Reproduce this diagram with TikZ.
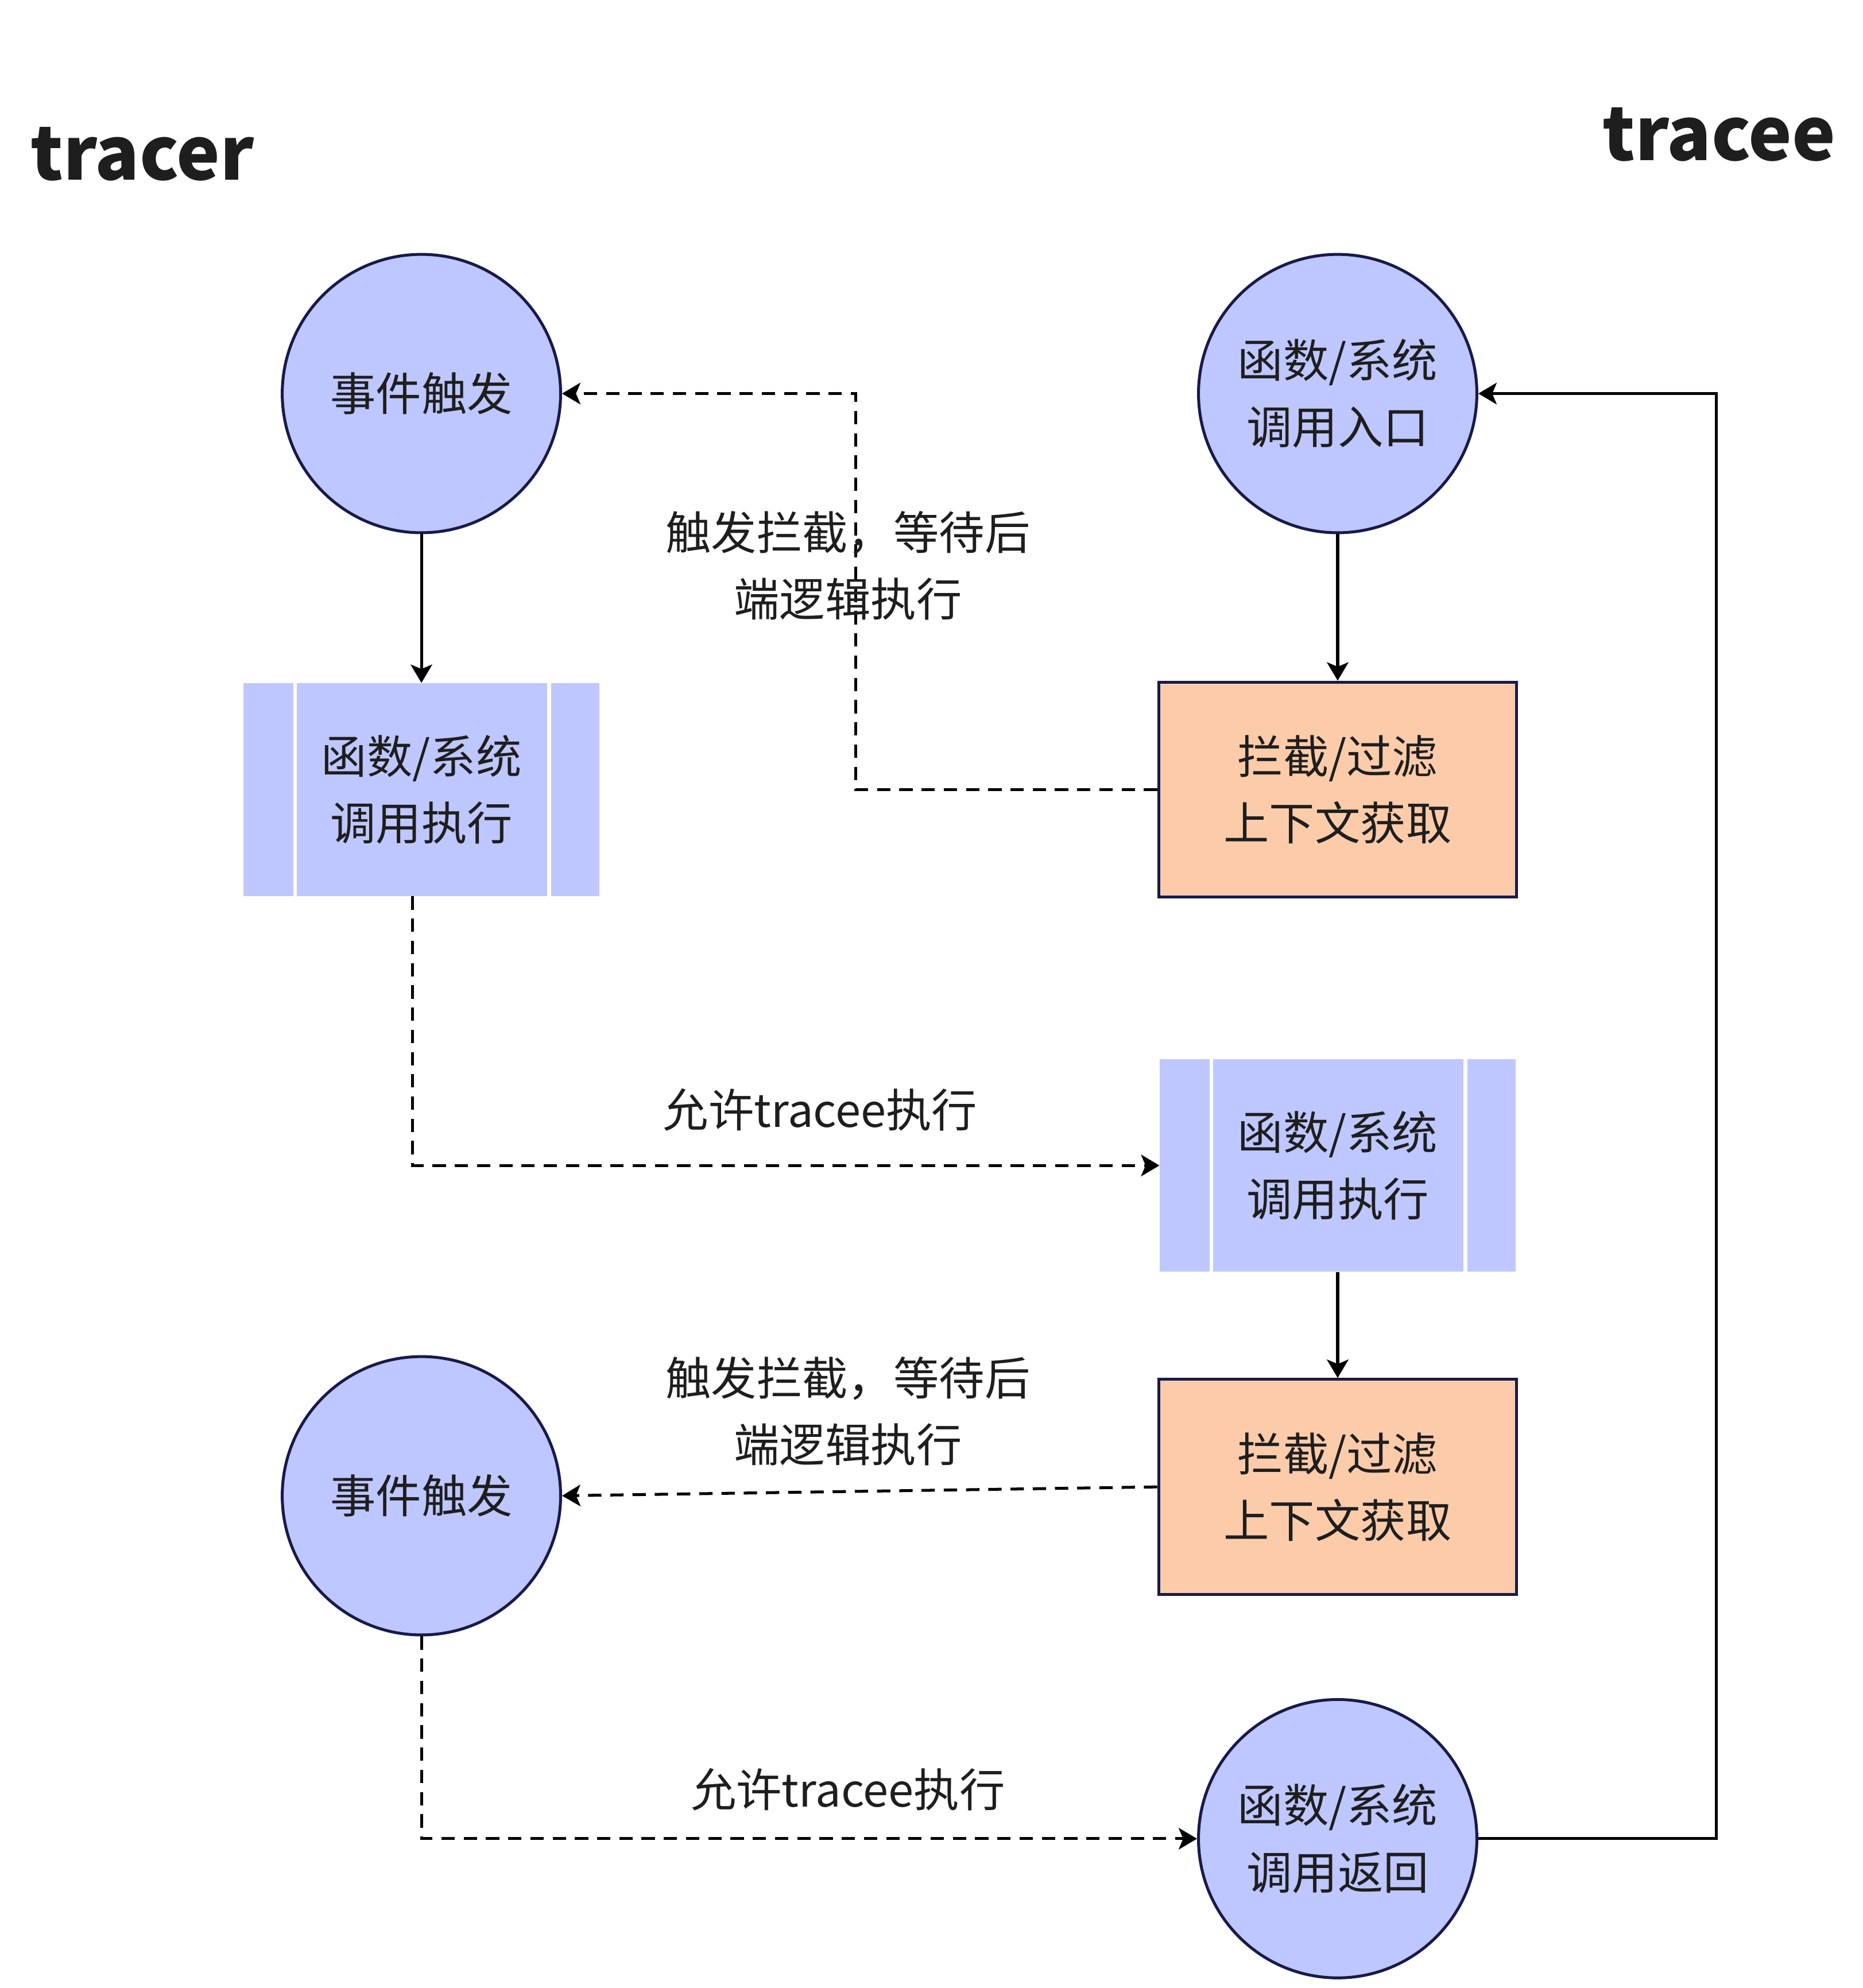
\documentclass[tikz,border=0pt]{standalone}
\usepackage{fontspec}
\setmainfont{Noto Sans CJK SC}
\usetikzlibrary{arrows.meta}

\definecolor{callblue}{RGB}{190,199,255}
\definecolor{hookorange}{RGB}{252,204,170}
\definecolor{edgenavy}{RGB}{24,26,72}
\definecolor{inkgray}{RGB}{30,30,30}

\newcommand{\boxfont}{\fontsize{20.5pt}{30pt}\selectfont}
\newcommand{\sidefont}{\fontsize{33pt}{38pt}\selectfont\bfseries}

\tikzset{
	evtcircle/.style={circle, draw=edgenavy, line width=1.3pt, fill=callblue,
		minimum size=4.4cm, inner sep=0pt, align=center, text=inkgray, font=\boxfont},
	callbox/.style={rectangle, fill=callblue, minimum width=5.62cm,
		minimum height=3.36cm, inner sep=0pt, align=center, text=inkgray, font=\boxfont},
	hookbox/.style={rectangle, draw=edgenavy, line width=1.3pt, fill=hookorange,
		minimum width=5.66cm, minimum height=3.4cm, inner sep=0pt, align=center,
		text=inkgray, font=\boxfont},
	flowlabel/.style={align=center, text=inkgray, font=\boxfont},
	solidflow/.style={line width=1.3pt, -{Stealth[length=0.29cm, width=0.34cm, inset=0.07cm]}},
	dashflow/.style={solidflow, dash pattern=on 6pt off 4pt},
	splitline/.style={white, line width=0.06cm}
}

\begin{document}
\begin{tikzpicture}[x=0.02cm, y=-0.02cm]
	\useasboundingbox (0,0) rectangle (1472,1571);

	%Side titles
	\node[anchor=base west, inner sep=0pt, text=inkgray, font=\sidefont] (tracer) at (24,142) {tracer};
	\node[anchor=base east, inner sep=0pt, text=inkgray, font=\sidefont] (tracee) at (1451,127) {tracee};

	%tracer side
	\node[evtcircle] (trig1) at (333,311) {事件触发};
	\node[callbox] (exec1) at (333,624) {函数/系统\\调用执行};
	\node[evtcircle] (trig2) at (333,1182) {事件触发};

	%tracee side
	\node[evtcircle] (entry) at (1057,311) {函数/系统\\调用入口};
	\node[hookbox] (hook1) at (1057,624) {拦截/过滤\\上下文获取};
	\node[callbox] (exec2) at (1057,921) {函数/系统\\调用执行};
	\node[hookbox] (hook2) at (1057,1175) {拦截/过滤\\上下文获取};
	\node[evtcircle] (ret) at (1057,1453) {函数/系统\\调用返回};

	%white split lines of the call boxes
	\foreach \b in {exec1, exec2} {
		\draw[splitline] ([xshift=0.82cm]\b.north west) -- ([xshift=0.82cm]\b.south west);
		\draw[splitline] ([xshift=-0.8cm]\b.north east) -- ([xshift=-0.8cm]\b.south east);
	}

	%turning points
	\coordinate (bend1) at (676,624);
	\coordinate (bend2) at (1356,1453);

	%connectors
	\draw[solidflow] (trig1) -- (exec1);
	\draw[solidflow] (entry) -- (hook1);
	\draw[solidflow] (exec2) -- (hook2);
	\draw[dashflow] (hook1.west) -- (bend1) |- (trig1.east);
	\draw[dashflow] ([xshift=-0.14cm]exec1.south) |- (exec2.west);
	\draw[dashflow] (hook2.west) -- (trig2.east);
	\draw[dashflow] (trig2.south) |- (ret.west);
	\draw[solidflow] (ret.east) -- (bend2) |- (entry.east);

	%labels
	\node[flowlabel] (wait1) at (670,447) {触发拦截，等待后\\端逻辑执行};
	\node[flowlabel] (allow1) at (648,877) {允许tracee执行};
	\node[flowlabel] (wait2) at (670,1115) {触发拦截，等待后\\端逻辑执行};
	\node[flowlabel] (allow2) at (670,1414) {允许tracee执行};
\end{tikzpicture}
\end{document}
